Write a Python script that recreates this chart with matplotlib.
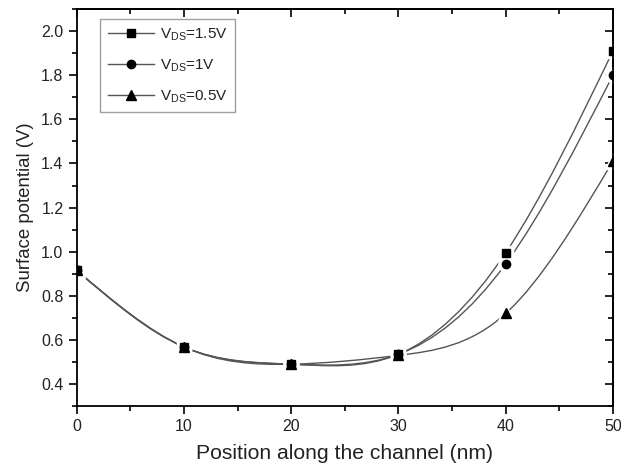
import matplotlib
matplotlib.use("Agg")
import numpy as np
import matplotlib.pyplot as plt
from matplotlib.path import Path
from matplotlib.patches import PathPatch
from matplotlib.ticker import MultipleLocator
from matplotlib.lines import Line2D

plt.rcParams['font.family'] = ['Liberation Sans', 'DejaVu Sans']
plt.rcParams['mathtext.fontset'] = 'custom'
plt.rcParams['mathtext.rm'] = 'Liberation Sans'
plt.rcParams['mathtext.it'] = 'Liberation Sans'

# position along the channel (nm)
position = [0, 10, 20, 30, 40, 50]
# surface potential (V) for each drain bias
vds_15 = [0.915, 0.568, 0.49, 0.535, 0.995, 1.91]
vds_10 = [0.915, 0.568, 0.49, 0.535, 0.945, 1.80]
vds_05 = [0.915, 0.568, 0.49, 0.53, 0.72, 1.41]
labels = ["V$_{\\mathrm{DS}}$=1.5V", "V$_{\\mathrm{DS}}$=1V", "V$_{\\mathrm{DS}}$=0.5V"]
markers = ['s', 'o', '^']

text_col = '#222222'
line_col = '#555555'


def smooth_path(x, y):
    # natural cubic spline through the points, handed to matplotlib as bezier segments
    x = np.asarray(x, float)
    y = np.asarray(y, float)
    n = len(x)
    h = np.diff(x)
    A = np.zeros((n, n))
    b = np.zeros(n)
    A[0, 0] = A[-1, -1] = 1
    for i in range(1, n - 1):
        A[i, i - 1] = h[i - 1]
        A[i, i] = 2 * (h[i - 1] + h[i])
        A[i, i + 1] = h[i]
        b[i] = 6 * ((y[i + 1] - y[i]) / h[i] - (y[i] - y[i - 1]) / h[i - 1])
    M = np.linalg.solve(A, b)
    d = np.zeros(n)
    for i in range(n - 1):
        d[i] = (y[i + 1] - y[i]) / h[i] - h[i] * (2 * M[i] + M[i + 1]) / 6
    d[-1] = (y[-1] - y[-2]) / h[-1] + h[-1] * (M[-2] + 2 * M[-1]) / 6
    verts = [(x[0], y[0])]
    codes = [Path.MOVETO]
    for i in range(n - 1):
        t = h[i] / 3
        verts += [(x[i] + t, y[i] + t * d[i]),
                  (x[i + 1] - t, y[i + 1] - t * d[i + 1]),
                  (x[i + 1], y[i + 1])]
        codes += [Path.CURVE4] * 3
    return Path(verts, codes)


fig = plt.figure(figsize=(6.21, 4.75), dpi=100)
ax = fig.add_axes([0.1235, 0.145, 0.8635, 0.836])

sizes = {'s': 5.5, 'o': 6.0, '^': 6.5}
handles = []
for ys, m, lab in zip([vds_15, vds_10, vds_05], markers, labels):
    ax.add_patch(PathPatch(smooth_path(position, ys), facecolor='none',
                           edgecolor=line_col, lw=1.0, zorder=1.5))
    ms = sizes[m]
    ax.plot(position, ys, ls='none', marker=m, ms=ms + 5, color='white',
            mec='white', zorder=1.8)
    ax.plot(position, ys, ls='none', marker=m, ms=ms, color='black',
            mec='black', zorder=2.0)
    handles.append(Line2D([], [], color=line_col, lw=1.0, marker=m, ms=ms,
                          mfc='black', mec='black'))

ax.set_xlim(0, 50)
ax.set_ylim(0.3, 2.1)
ax.xaxis.set_major_locator(MultipleLocator(10))
ax.xaxis.set_minor_locator(MultipleLocator(5))
ax.yaxis.set_minor_locator(MultipleLocator(0.1))
ax.set_yticks([0.4, 0.6, 0.8, 1.0, 1.2, 1.4, 1.6, 1.8, 2.0])
ax.tick_params(which='both', direction='out', width=1.2, labelsize=11.5,
               labelcolor=text_col, color='black')
ax.tick_params(which='major', length=6)
ax.tick_params(which='minor', length=3.5)
for s in ax.spines.values():
    s.set_linewidth(1.3)

top = ax.secondary_xaxis('top')
top.xaxis.set_major_locator(MultipleLocator(10))
top.xaxis.set_minor_locator(MultipleLocator(5))
top.tick_params(which='both', direction='in', labeltop=False, width=1.2)
top.tick_params(which='major', length=6)
top.tick_params(which='minor', length=3.5)
top.spines['top'].set_linewidth(1.3)

right = ax.secondary_yaxis('right')
right.yaxis.set_major_locator(MultipleLocator(0.2))
right.yaxis.set_minor_locator(MultipleLocator(0.1))
right.tick_params(which='both', direction='in', labelright=False, width=1.2)
right.tick_params(which='major', length=6)
right.tick_params(which='minor', length=3.5)
right.spines['right'].set_linewidth(1.3)

ax.set_xlabel("Position along the channel (nm)", fontsize=15.2, color=text_col,
              labelpad=7)
ax.set_ylabel("Surface potential (V)", fontsize=13.4, color=text_col, labelpad=5)

leg = ax.legend(handles, labels, loc='upper left', bbox_to_anchor=(0.03, 0.995),
                fontsize=11, frameon=True, fancybox=False, handlelength=3.0,
                labelspacing=0.95, borderpad=0.5, handletextpad=0.4,
                labelcolor=text_col)
leg.get_frame().set_edgecolor('#888888')
leg.get_frame().set_linewidth(1.0)

fig.savefig("out.png", dpi=100)
